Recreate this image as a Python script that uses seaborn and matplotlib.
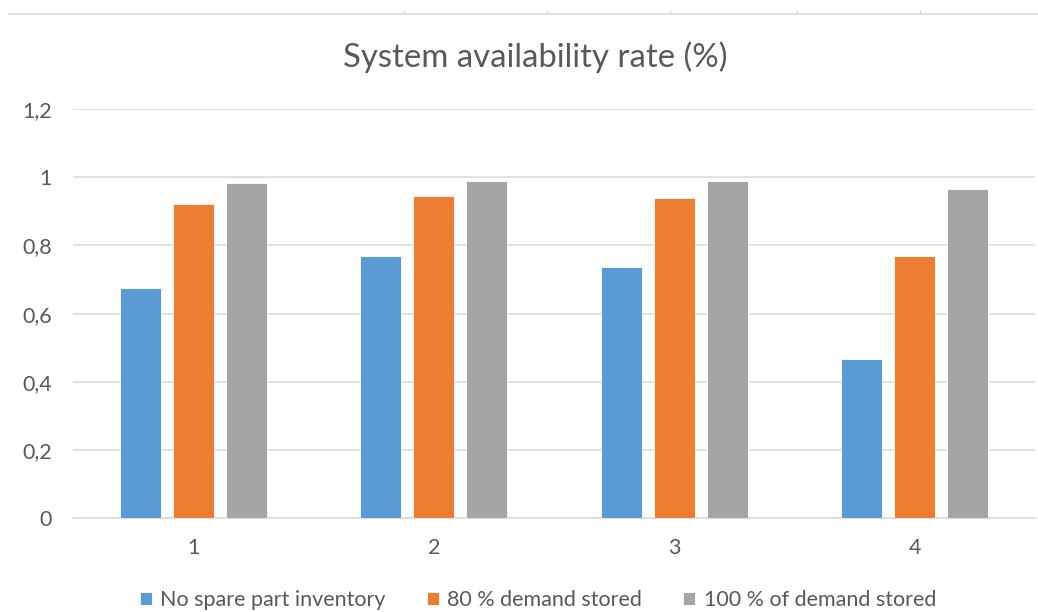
import matplotlib
matplotlib.use("Agg")
import matplotlib.pyplot as plt
from matplotlib.lines import Line2D
import pandas as pd
import seaborn as sns

# Scenario index and availability per spare-part policy
scenarios = ["1", "2", "3", "4"]
no_spare = [0.676, 0.768, 0.738, 0.467]
demand_80 = [0.922, 0.946, 0.940, 0.768]
demand_100 = [0.984, 0.988, 0.988, 0.965]
series_names = ["No spare part inventory", "80 % demand stored", "100 % of demand stored"]
y_ticks = [0, 0.2, 0.4, 0.6, 0.8, 1.0, 1.2]
y_tick_labels = ["0", "0,2", "0,4", "0,6", "0,8", "1", "1,2"]

colors = ["#5B9BD5", "#ED7D31", "#A5A5A5"]
text_color = "#595959"
grid_color = "#D9D9D9"

sns.set_theme(style="white")
plt.rcParams["font.family"] = ["Lato", "DejaVu Sans"]

rows = []
for name, vals in zip(series_names, [no_spare, demand_80, demand_100]):
    for s, v in zip(scenarios, vals):
        rows.append({"scenario": s, "series": name, "value": v})
df = pd.DataFrame(rows)

fig = plt.figure(figsize=(10.38, 6.12), dpi=100)
ax = fig.add_axes([73 / 1038, 1 - 518.3 / 612, (1035 - 73) / 1038, (518.3 - 109) / 612])

sns.barplot(data=df, x="scenario", y="value", hue="series", order=scenarios,
            hue_order=series_names, palette=colors, width=0.6625, gap=0.226,
            edgecolor="white", linewidth=0.6, saturation=1, ax=ax, zorder=3)

ax.set_ylim(0, 1.2)
ax.set_xlim(-0.5, 3.5)
ax.set_yticks(y_ticks)
ax.set_yticklabels(y_tick_labels)
ax.yaxis.grid(True, color=grid_color, linewidth=1.1, zorder=0)
ax.set_axisbelow(True)
for side in ["top", "right", "left"]:
    ax.spines[side].set_visible(False)
ax.spines["bottom"].set_color(grid_color)
ax.spines["bottom"].set_linewidth(1.1)
ax.tick_params(axis="both", length=0, labelsize=15.5, colors=text_color)
ax.tick_params(axis="y", pad=15)
ax.tick_params(axis="x", pad=14)
ax.set_xlabel("")
ax.set_ylabel("")

handles, labels = ax.get_legend_handles_labels()
ax.get_legend().remove()
fig.legend(handles, labels, loc="center", bbox_to_anchor=(538 / 1038, 1 - 600 / 612),
           ncol=3, frameon=False, fontsize=15.5, labelcolor=text_color,
           handlelength=0.55, handleheight=0.55, handletextpad=0.4,
           columnspacing=1.9)

fig.text(535 / 1038, 1 - 57 / 612, "System availability rate (%)", ha="center",
         va="center", fontsize=23.7, color=text_color)

# thin frame line along the top with small tick marks
fig.add_artist(Line2D([9 / 1038, 1], [1 - 13.5 / 612] * 2, color="#DDDDDD",
                      linewidth=1.2, transform=fig.transFigure))
for tx in [404, 547, 670, 797, 920]:
    fig.add_artist(Line2D([tx / 1038] * 2, [1 - 11 / 612, 1 - 14 / 612], color="#CFCFCF",
                          linewidth=0.8, transform=fig.transFigure))

fig.savefig("out.png", dpi=100, facecolor="white")
